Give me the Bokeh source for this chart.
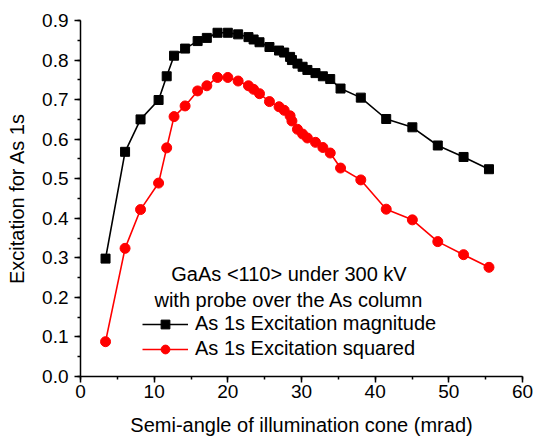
from bokeh.plotting import figure
from bokeh.models import Range1d, Legend, LegendItem, Label, SingleIntervalTicker, NumeralTickFormatter
from bokeh.embed import file_html
from bokeh.resources import INLINE

# Semi-angle of illumination cone (mrad)
angle = [3.4, 6.05, 8.15, 10.6, 11.7, 12.7, 14.2, 15.9, 17.15, 18.6, 20.0, 21.4, 22.8, 23.5,
         24.3, 25.65, 26.95, 27.65, 28.45, 28.7, 29.45, 30.15, 30.8, 31.9, 32.9, 33.9, 35.3,
         38.05, 41.5, 45.05, 48.5, 52.0, 55.45]
# As 1s excitation magnitude
magnitude = [0.298, 0.568, 0.650, 0.699, 0.759, 0.811, 0.829, 0.848, 0.856, 0.869, 0.869,
             0.865, 0.858, 0.852, 0.845, 0.833, 0.824, 0.819, 0.808, 0.800, 0.791, 0.783,
             0.775, 0.767, 0.759, 0.752, 0.728, 0.705, 0.651, 0.630, 0.584, 0.555, 0.524]
# As 1s excitation squared
squared = [0.088, 0.324, 0.422, 0.489, 0.578, 0.657, 0.684, 0.722, 0.735, 0.756, 0.756,
           0.747, 0.735, 0.726, 0.715, 0.695, 0.682, 0.673, 0.659, 0.646, 0.625, 0.613,
           0.603, 0.592, 0.579, 0.565, 0.527, 0.497, 0.423, 0.396, 0.341, 0.308, 0.276]

title_lines = ["GaAs <110> under 300 kV", "with probe over the As column"]
series_names = ["As 1s Excitation magnitude", "As 1s Excitation squared"]

FONT = "Liberation Sans"

p = figure(width=534, height=442, output_backend="svg", toolbar_location=None,
           x_range=Range1d(0, 60), y_range=Range1d(0, 0.9),
           min_border_left=80, min_border_right=12, min_border_top=20, min_border_bottom=66)
p.outline_line_color = None
p.xgrid.visible = False
p.ygrid.visible = False
p.background_fill_color = "white"
p.border_fill_color = "white"

l1 = p.line(angle, magnitude, line_color="black", line_width=1.6)
s1 = p.scatter(angle, magnitude, marker="square", size=9, fill_color="black", line_color="black")
l2 = p.line(angle, squared, line_color="#ff0000", line_width=1.6)
s2 = p.scatter(angle, squared, marker="circle", size=10, fill_color="#ff0000", line_color="#ff0000")

for ax in (p.xaxis[0], p.yaxis[0]):
    ax.axis_line_color = "black"
    ax.axis_line_width = 1.5
    ax.major_tick_line_width = 1.5
    ax.minor_tick_line_width = 1.5
    ax.major_tick_in = 0
    ax.major_tick_out = 6
    ax.minor_tick_in = 0
    ax.minor_tick_out = 3
    ax.major_label_text_font = FONT
    ax.major_label_text_font_size = "19px"
    ax.major_label_text_color = "black"
    ax.axis_label_text_font = FONT
    ax.axis_label_text_font_size = "20px"
    ax.axis_label_text_font_style = "normal"
    ax.axis_label_text_color = "black"

p.xaxis.ticker = SingleIntervalTicker(interval=10, num_minor_ticks=2)
p.yaxis.ticker = SingleIntervalTicker(interval=0.1, num_minor_ticks=2)
p.yaxis.formatter = NumeralTickFormatter(format="0.0")
p.xaxis.axis_label = "Semi-angle of illumination cone (mrad)"
p.yaxis.axis_label = "Excitation for As 1s"
p.xaxis.major_label_standoff = 2
p.yaxis.major_label_standoff = 6
p.xaxis.axis_label_standoff = 13
p.yaxis.axis_label_standoff = 11

p.add_layout(Label(x=28.3, y=0.258, text=title_lines[0], text_align="center",
                   text_baseline="alphabetic",
                   text_font=FONT, text_font_size="20px", text_color="black"))
p.add_layout(Label(x=28.3, y=0.194, text=title_lines[1], text_align="center",
                   text_baseline="alphabetic",
                   text_font=FONT, text_font_size="20px", text_color="black"))

legend = Legend(items=[LegendItem(label=series_names[0], renderers=[l1, s1]),
                       LegendItem(label=series_names[1], renderers=[l2, s2])],
                location=(62, 16), border_line_color=None, background_fill_alpha=0,
                padding=0, margin=0, spacing=2, glyph_width=46, glyph_height=22,
                label_height=22, label_standoff=7,
                label_text_font=FONT, label_text_font_size="20px",
                label_text_color="black")
p.add_layout(legend, "center")

open("out.html", "w").write(file_html(p, INLINE))
